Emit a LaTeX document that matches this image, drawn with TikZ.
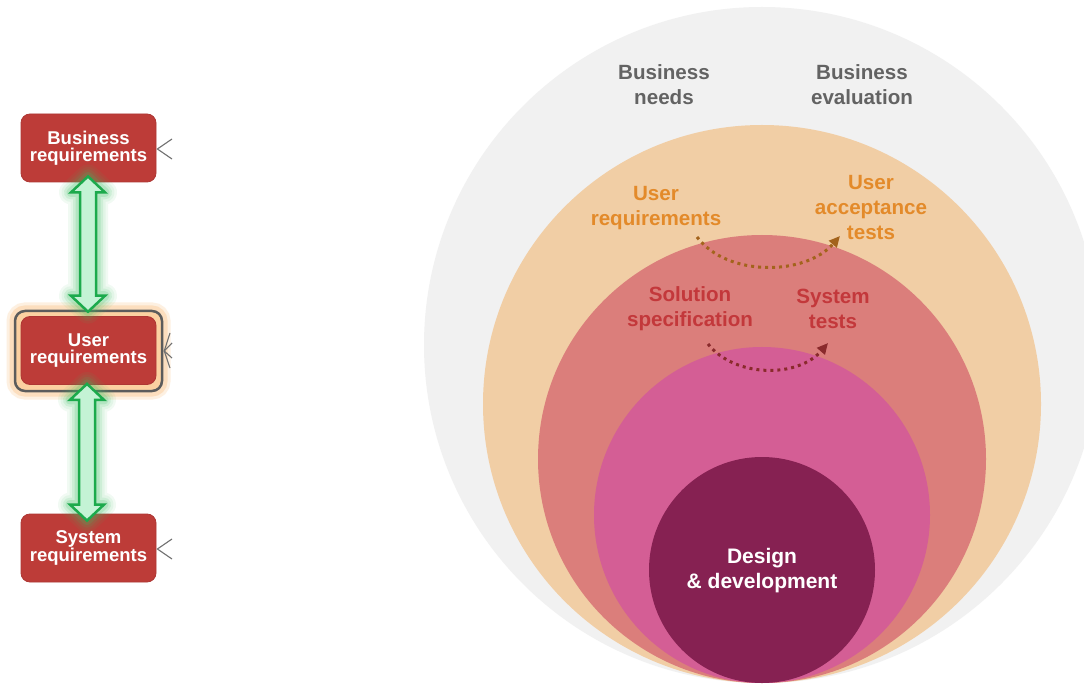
\documentclass[tikz,border=0pt]{standalone}
\usepackage{fontspec}
\setmainfont{Liberation Sans}
\usetikzlibrary{calc,arrows.meta}
\definecolor{bggray}{HTML}{F1F1F1}
\definecolor{orangec}{HTML}{F1CEA5}
\definecolor{salmonc}{HTML}{DB7E7B}
\definecolor{pinkc}{HTML}{D45E95}
\definecolor{darkc}{HTML}{862152}
\definecolor{graytext}{HTML}{636363}
\definecolor{orangetext}{HTML}{E38A2A}
\definecolor{redtext}{HTML}{C3383B}
\definecolor{boxred}{HTML}{BD3C38}
\definecolor{framegray}{HTML}{5C5C5C}
\definecolor{glowor}{HTML}{FBC58A}
\definecolor{arrbrown}{HTML}{A3631C}
\definecolor{arrdark}{HTML}{8A2A2C}
\definecolor{glowgreen}{HTML}{3CC063}
\definecolor{arrowgreen}{HTML}{1CAA4C}
\definecolor{arrowfill}{HTML}{C4F3D5}
\definecolor{chevgray}{HTML}{707070}
\newcommand\dblpath{(\x1,\y1) -- (\x1+17pt,\y1-16pt) -- (\x1+8pt,\y1-16pt) -- (\x1+8pt,\y2+16pt) -- (\x1+17pt,\y2+16pt) -- (\x1,\y2) -- (\x1-17pt,\y2+16pt) -- (\x1-8pt,\y2+16pt) -- (\x1-8pt,\y1-16pt) -- (\x1-17pt,\y1-16pt) -- cycle}
\newcommand\glowarrow[2]{%
  \foreach \ww/\oo in {24/0.07,19/0.08,14/0.12,9/0.18}{%
    \draw[line width=\ww pt, draw=glowgreen, opacity=\oo, line join=round] let \p1=(#1),\p2=(#2) in \dblpath;
  }%
  \filldraw[fill=arrowfill, draw=arrowgreen, line width=2.5pt, line join=miter] let \p1=(#1),\p2=(#2) in \dblpath;
}
\tikzset{
  lbl/.style={font=\fontsize{20.6}{25}\selectfont\bfseries, align=center, inner sep=0pt},
  boxst/.style={rounded corners=9pt, fill=boxred, draw=boxred!92!black, line width=0.8pt,
    minimum width=135pt, minimum height=68pt, text=white,
    font=\fontsize{18.5}{17.5}\selectfont\bfseries, align=center, inner sep=0pt},
  framest/.style={draw=framegray, fill=glowor!80!white, line width=2.5pt, rounded corners=10pt,
    minimum width=147pt, minimum height=80pt, inner sep=0pt,
    preaction={draw=glowor, line width=17pt, opacity=0.25},
    preaction={draw=glowor, line width=11pt, opacity=0.4}},
  dotarrow/.style={line width=3pt, dash pattern=on 3pt off 4pt, -{Triangle[length=11pt,width=10pt]}},
  chev/.style={draw=chevgray, line width=1.1pt}
}
\begin{document}
\begin{tikzpicture}[x=1pt,y=-1pt]
\clip (0,0) rectangle (1084,684);
\fill[white] (0,0) rectangle (1084,684);
% nested circles
\fill[bggray] (762,345) circle [radius=338pt];
\fill[orangec] (762,404) circle [radius=279pt];
\fill[salmonc] (762,459) circle [radius=224pt];
\fill[pinkc] (762,515) circle [radius=168pt];
\fill[darkc] (762,570) circle [radius=113pt];
% labels
\node[lbl, text=graytext] (bn) at (664,85) {Business\\needs};
\node[lbl, text=graytext] (be) at (862,85) {Business\\evaluation};
\node[lbl, text=orangetext] (urq) at (656,208) {User\\requirements};
\node[lbl, text=orangetext] (uat) at (871,208) {User\\acceptance\\tests};
\node[lbl, text=redtext] (ss) at (690,309) {Solution\\specification};
\node[lbl, text=redtext] (st) at (833,309) {System\\tests};
\node[lbl, text=white, font=\fontsize{21}{25}\selectfont\bfseries] (dd) at (762,571) {Design\\\& development};
% dotted arrows
\coordinate (c1s) at (697,237);
\coordinate (c1e) at (840,236);
\coordinate (c2s) at (708,344);
\coordinate (c2e) at (828,343);
\draw[dotarrow, draw=arrbrown] (c1s) .. controls (727,277) and (805,276) .. (c1e);
\draw[dotarrow, draw=arrdark] (c2s) .. controls (735,378) and (798,378) .. (c2e);
% left boxes
\node[framest] (uf) at (88.5,351) {};
\node[boxst] (br) at (88.5,148) {Business\\requirements};
\node[boxst] (ur) at (88.5,350.5) {User\\requirements};
\node[boxst] (sr) at (88.5,548) {System\\requirements};
% chevrons (cut-off connectors)
\coordinate (b1) at (172,139);
\coordinate (b2) at (172,159);
\draw[chev] (b1) -- ($(br.east)+(1,1)$) -- (b2);
\coordinate (u1) at (170,333);
\coordinate (u2) at (172,343);
\coordinate (u3) at (172,358);
\coordinate (u4) at (170,368);
\draw[chev] (u1) -- ($(uf.east)+(1,0)$) -- (u4);
\draw[chev] (u2) -- ($(uf.east)+(1,0)$) -- (u3);
\coordinate (s1) at (172,539);
\coordinate (s2) at (172,559);
\draw[chev] (s1) -- ($(sr.east)+(1,1)$) -- (s2);
% green double arrows
\coordinate (a1t) at ($(br.south)+(-0.5,-6)$);
\coordinate (a1b) at ($(uf.north)+(-0.5,2)$);
\coordinate (a2t) at ($(ur.south)+(-1.5,-1)$);
\coordinate (a2b) at ($(sr.north)+(-1.5,7)$);
\glowarrow{a1t}{a1b}
\glowarrow{a2t}{a2b}
\end{tikzpicture}
\end{document}
